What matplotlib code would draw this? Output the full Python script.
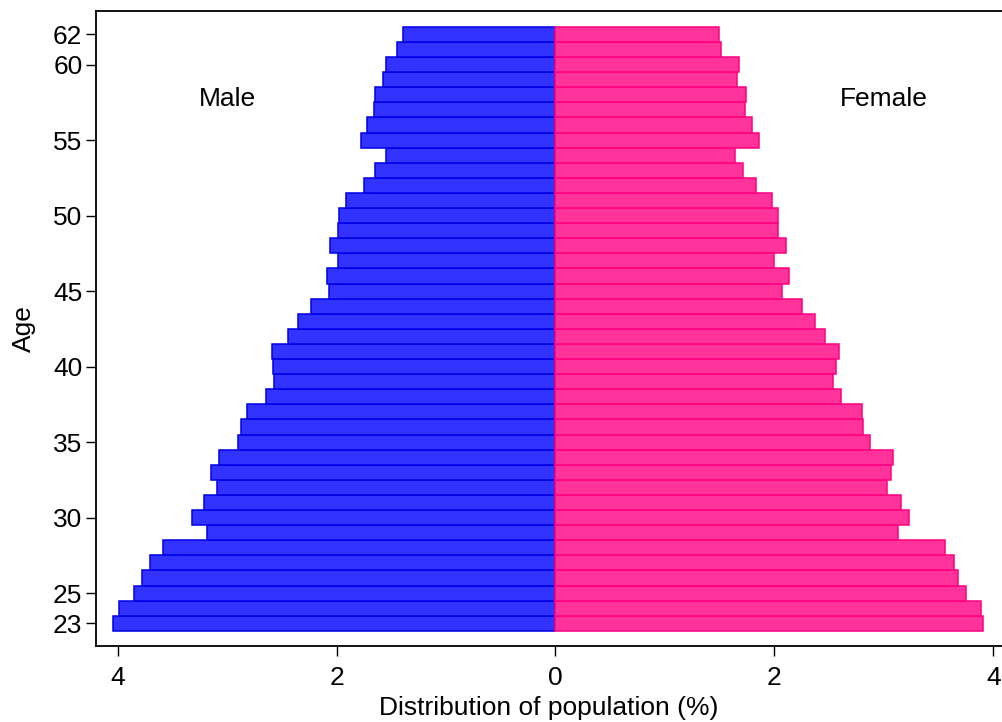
import matplotlib
matplotlib.use("Agg")
import matplotlib.pyplot as plt

# ages from 23 up to 62, one bar per year
ages = list(range(23, 63))

# percent of population (age 23 first)
male = [4.04, 3.99, 3.85, 3.78, 3.70, 3.59, 3.18, 3.32, 3.21, 3.09,
        3.15, 3.07, 2.90, 2.87, 2.82, 2.64, 2.57, 2.58, 2.59, 2.44,
        2.35, 2.23, 2.07, 2.09, 1.99, 2.06, 1.99, 1.98, 1.91, 1.75,
        1.65, 1.55, 1.78, 1.72, 1.66, 1.65, 1.58, 1.55, 1.45, 1.39]
female = [3.91, 3.89, 3.75, 3.68, 3.64, 3.56, 3.13, 3.23, 3.16, 3.03,
          3.07, 3.08, 2.87, 2.81, 2.80, 2.61, 2.54, 2.56, 2.59, 2.46,
          2.37, 2.25, 2.07, 2.13, 2.00, 2.11, 2.03, 2.03, 1.98, 1.83,
          1.71, 1.64, 1.86, 1.80, 1.73, 1.74, 1.66, 1.68, 1.51, 1.49]

yticks = [23, 25, 30, 35, 40, 45, 50, 55, 60, 62]
xticks = [-4, -2, 0, 2, 4]

plt.rcParams['font.family'] = ['Liberation Sans', 'DejaVu Sans']

fig = plt.figure(figsize=(10.02, 7.22), dpi=100)
ax = fig.add_axes([0.0961, 0.1053, 0.9039, 0.8795])

ax.barh(ages, [-m for m in male], height=1.0, color="#3333ff",
        edgecolor="#0000e6", linewidth=1.1)
ax.barh(ages, female, height=1.0, color="#ff3399",
        edgecolor="#ff0080", linewidth=1.1)

ax.set_xlim(-4.195, 4.08)
ax.set_ylim(21.5, 63.55)

ax.set_xticks(xticks)
ax.set_xticklabels([str(abs(t)) for t in xticks])
ax.set_yticks(yticks)
ax.tick_params(labelsize=19, length=7, width=1, direction="out")
ax.tick_params(axis="x", pad=7.5)
ax.tick_params(axis="y", pad=3)

ax.text(-3.0, 57.7, "Male", fontsize=19, ha="center", va="center")
ax.text(3.0, 57.7, "Female", fontsize=19, ha="center", va="center")

ax.set_xlabel("Distribution of population (%)", fontsize=19, labelpad=4.5)
ax.set_ylabel("Age", fontsize=19, labelpad=12)

for s in ["left", "bottom", "top"]:
    ax.spines[s].set_linewidth(1.3)
ax.spines["right"].set_visible(False)

fig.savefig("out.png", dpi=100)
